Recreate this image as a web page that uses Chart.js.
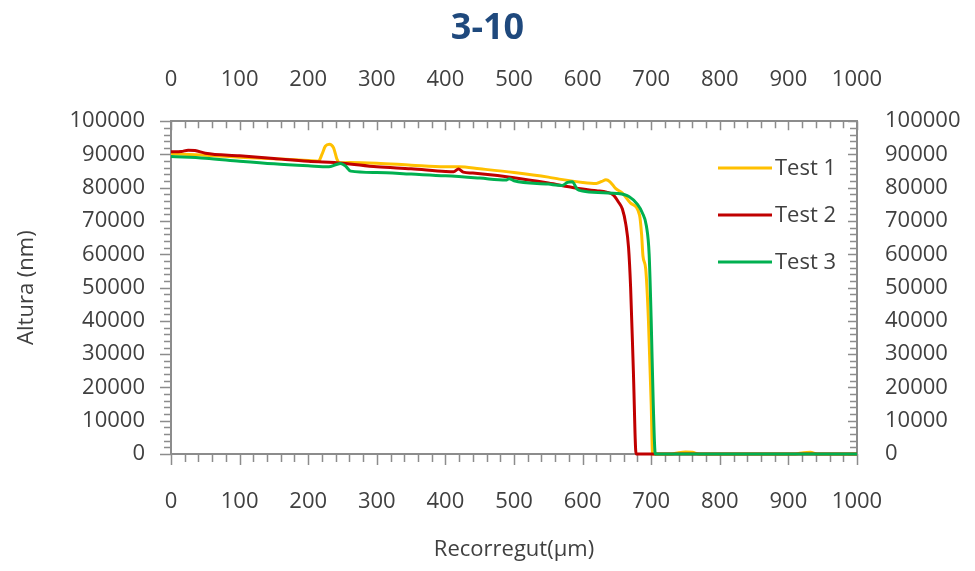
<!DOCTYPE html>
<html>
<head>
<meta charset="utf-8">
<title>3-10</title>
<script src="https://cdn.jsdelivr.net/npm/chart.js@4.4.1/dist/chart.umd.min.js"></script>
<style>
  body { margin: 0; background: #fff; }
  canvas { display: block; }
</style>
</head>
<body>
<canvas id="chart" width="975" height="571"></canvas>
<script>
// values (x in µm, y in nm)
const test1X = [0, 50, 100, 150, 200, 215, 220, 225, 231, 237, 242, 246, 260, 300, 350, 400, 420, 450, 500, 550, 566, 600, 620, 628, 634, 640, 648, 658, 670, 683, 686, 688, 692, 696, 700, 702, 730, 740, 750, 760, 770, 910, 922, 932, 942, 1000];
const test1Y = [90200, 89800, 89200, 88700, 88200, 88000, 90000, 92500, 93100, 92000, 88500, 87500, 87600, 87400, 86800, 86300, 86300, 85700, 84600, 83200, 82600, 81600, 81300, 81900, 82400, 81800, 79800, 78400, 75400, 71800, 66000, 59500, 55600, 40000, 15000, 0, 0, 400, 600, 500, 0, 0, 400, 500, 0, 0];

const test2X = [0, 15, 25, 35, 50, 100, 150, 200, 250, 300, 350, 400, 412, 419, 426, 440, 500, 550, 580, 600, 620, 635, 645, 652, 658, 663, 667, 670, 674, 678, 690, 702, 1000];
const test2Y = [90800, 90900, 91300, 91200, 90400, 89600, 88800, 88000, 87400, 86300, 85700, 84900, 84800, 85600, 84700, 84400, 83000, 81400, 80300, 79600, 79100, 78700, 77800, 75800, 73600, 69000, 62000, 50000, 25000, 0, 0, 0, 0];

const test3X = [0, 50, 100, 150, 200, 230, 240, 247, 254, 262, 300, 350, 400, 450, 488, 493, 500, 550, 570, 578, 585, 592, 600, 630, 650, 668, 680, 687, 693, 697, 700, 703, 706, 1000];
const test3Y = [89400, 88900, 88000, 87200, 86600, 86300, 86900, 87300, 86600, 85000, 84600, 84100, 83600, 82900, 82300, 82700, 82100, 81100, 80700, 81600, 81800, 79600, 79000, 78500, 78300, 77300, 75000, 72500, 68500, 60000, 40000, 15000, 0, 0];

const seriesNames = ['Test 1', 'Test 2', 'Test 3'];
const seriesColors = ['#FFC000', '#C00000', '#00B050'];

const xMax = 1000;
const yMax = 100000;

function points(xs, ys) {
  return xs.map((x, i) => ({ x: x, y: ys[i] }));
}

const textColor = '#404040';
const axisColor = '#8c8c8c';
const fontFamily = "'Open Sans', 'Noto Sans', sans-serif";

// force the box sizes so the plot area sits where it does in the picture
function fixSize(size) {
  return function (scale) {
    if (scale.isHorizontal()) scale.height = size;
    else scale.width = size;
  };
}

// major + minor tick marks, like the Excel chart
const tickMarks = {
  id: 'tickMarks',
  beforeDatasetsDraw(chart) {
    const ctx = chart.ctx;
    const a = chart.chartArea;
    const xs = chart.scales.x;
    const ys = chart.scales.y;
    ctx.save();
    ctx.strokeStyle = axisColor;
    ctx.lineWidth = 1.5;
    ctx.beginPath();
    for (let v = 0; v <= xMax; v += 20) {
      const px = Math.round(xs.getPixelForValue(v)) + 0.5;
      const major = v % 100 === 0;
      ctx.moveTo(px, a.bottom);
      ctx.lineTo(px, a.bottom + (major ? 11 : 8));
      ctx.moveTo(px, a.top);
      ctx.lineTo(px, a.top + (major ? 9 : 7));
    }
    for (let v = 0; v <= yMax; v += 2000) {
      const py = Math.round(ys.getPixelForValue(v)) + 0.5;
      const major = v % 10000 === 0;
      ctx.moveTo(a.left, py);
      ctx.lineTo(a.left - (major ? 11 : 7), py);
      ctx.moveTo(a.right, py);
      ctx.lineTo(a.right - (major ? 9 : 7), py);
    }
    ctx.stroke();
    ctx.restore();
  }
};

// legend inside the plot, at the right
const insideLegend = {
  id: 'insideLegend',
  afterDraw(chart) {
    const ctx = chart.ctx;
    const rows = [168, 215, 262];
    ctx.save();
    ctx.font = '22px ' + fontFamily;
    ctx.textBaseline = 'middle';
    ctx.fillStyle = textColor;
    chart.data.datasets.forEach((ds, i) => {
      ctx.strokeStyle = ds.borderColor;
      ctx.lineWidth = 3;
      ctx.beginPath();
      ctx.moveTo(718, rows[i]);
      ctx.lineTo(772, rows[i]);
      ctx.stroke();
      ctx.fillText(ds.label, 775, rows[i] + 1);
    });
    ctx.restore();
  }
};

const datasets = [
  { label: seriesNames[0], data: points(test1X, test1Y), borderColor: seriesColors[0], order: 3 },
  { label: seriesNames[1], data: points(test2X, test2Y), borderColor: seriesColors[1], order: 2 },
  { label: seriesNames[2], data: points(test3X, test3Y), borderColor: seriesColors[2], order: 1 }
].map(d => Object.assign(d, {
  borderWidth: 3,
  pointRadius: 0,
  fill: false,
  cubicInterpolationMode: 'monotone',
  clip: 4
}));

const tickFont = { family: fontFamily, size: 22 };
const plainNumber = v => String(v);

function xAxis(position, pad, size) {
  return {
    type: 'linear',
    position: position,
    min: 0,
    max: xMax,
    grid: { display: false, drawTicks: false },
    border: { display: true, color: axisColor, width: 2 },
    ticks: { stepSize: 100, color: textColor, font: tickFont, padding: pad, maxRotation: 0, autoSkip: false, callback: plainNumber },
    afterFit: fixSize(size)
  };
}

function yAxis(position, pad, size) {
  return {
    type: 'linear',
    position: position,
    min: 0,
    max: yMax,
    grid: { display: false, drawTicks: false },
    border: { display: true, color: axisColor, width: 2 },
    ticks: { stepSize: 10000, color: textColor, font: tickFont, padding: pad, autoSkip: false, callback: plainNumber },
    afterFit: fixSize(size)
  };
}

const scales = {
  x: xAxis('bottom', 35, 117),
  x2: xAxis('top', 28, 71),
  y: yAxis('left', 26, 171),
  y2: yAxis('right', 28, 118)
};
scales.x.title = { display: true, text: 'Recorregut(µm)', color: textColor, font: { family: fontFamily, size: 22 }, padding: { top: 0, bottom: 8 } };
scales.y.title = { display: true, text: 'Altura (nm)', color: textColor, font: { family: fontFamily, size: 22 }, padding: { top: 14, bottom: 0 } };

new Chart(document.getElementById('chart').getContext('2d'), {
  type: 'line',
  data: { datasets: datasets },
  options: {
    responsive: false,
    animation: false,
    layout: { padding: 0 },
    scales: scales,
    plugins: {
      legend: { display: false },
      tooltip: { enabled: false },
      title: {
        display: true,
        text: '3-10',
        color: '#1F497D',
        font: { family: fontFamily, size: 36, weight: 'bold' },
        padding: { top: 7, bottom: 0 }
      }
    }
  },
  plugins: [tickMarks, insideLegend]
});
</script>
</body>
</html>
